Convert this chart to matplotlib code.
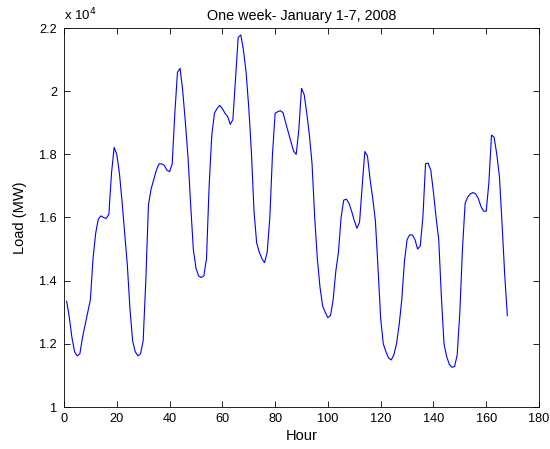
import matplotlib
matplotlib.use("Agg")
import matplotlib.pyplot as plt
from matplotlib.ticker import FuncFormatter, MultipleLocator

hours = list(range(1, 169))
load_1e4 = [
    1.335, 1.285, 1.22, 1.175, 1.162, 1.168, 1.22, 1.26, 1.30, 1.34,
    1.47, 1.55, 1.595, 1.605, 1.60, 1.597, 1.61, 1.74, 1.822, 1.80,
    1.74, 1.65, 1.55, 1.45, 1.31, 1.21, 1.175, 1.162, 1.168, 1.21,
    1.40, 1.64, 1.69, 1.72, 1.75, 1.77, 1.77, 1.765, 1.75, 1.745,
    1.77, 1.93, 2.06, 2.072, 2.00, 1.90, 1.79, 1.64, 1.50, 1.44,
    1.415, 1.41, 1.415, 1.47, 1.70, 1.86, 1.93, 1.945, 1.955, 1.945,
    1.93, 1.92, 1.895, 1.91, 2.04, 2.17, 2.178, 2.13, 2.06, 1.95,
    1.81, 1.62, 1.52, 1.49, 1.47, 1.457, 1.49, 1.60, 1.80, 1.93,
    1.935, 1.938, 1.932, 1.90, 1.87, 1.84, 1.81, 1.80, 1.88, 2.009,
    1.99, 1.93, 1.86, 1.77, 1.60, 1.47, 1.38, 1.32, 1.30, 1.283,
    1.29, 1.34, 1.43, 1.49, 1.60, 1.655, 1.658, 1.645, 1.62, 1.59,
    1.566, 1.585, 1.70, 1.809, 1.795, 1.72, 1.66, 1.59, 1.44, 1.28,
    1.20, 1.175, 1.155, 1.149, 1.165, 1.20, 1.26, 1.34, 1.46, 1.53,
    1.545, 1.545, 1.53, 1.50, 1.51, 1.60, 1.77, 1.772, 1.75, 1.68,
    1.60, 1.53, 1.35, 1.20, 1.16, 1.135, 1.126, 1.128, 1.165, 1.30,
    1.50, 1.645, 1.665, 1.675, 1.679, 1.675, 1.66, 1.635, 1.62, 1.62,
    1.71, 1.861, 1.854, 1.80, 1.73, 1.58, 1.42, 1.289,
]
load_mw = [v * 1e4 for v in load_1e4]

title = "One week- January 1-7, 2008"
xlabel = "Hour"
ylabel = "Load (MW)"

plt.rcParams['font.family'] = ['Liberation Sans', 'DejaVu Sans']

fig = plt.figure(figsize=(5.5, 4.49), dpi=100)
ax = fig.add_axes([64/550, 1-407/449, (539-64)/550, (407-28)/449])
ax.plot(hours, load_mw, color=(0, 0, 1), linewidth=0.8)
ax.set_xlim(0, 180)
ax.set_ylim(10000, 22000)
ax.xaxis.set_major_locator(MultipleLocator(20))
ax.yaxis.set_major_locator(MultipleLocator(2000))
ax.yaxis.set_major_formatter(FuncFormatter(lambda v, p: f"{v/1e4:g}"))
ax.tick_params(direction='in', top=True, right=True, length=4, width=0.6, labelsize=9.2)
ax.tick_params(axis='y', pad=5)
ax.tick_params(axis='x', pad=4)
for s in ax.spines.values():
    s.set_linewidth(0.6)
ax.set_title(title, fontsize=10.4, pad=6)
ax.set_xlabel(xlabel, fontsize=10.5, labelpad=3)
ax.set_ylabel(ylabel, fontsize=10.5, labelpad=9)
ax.text(0, 1.012, "x 10$^{4}$", transform=ax.transAxes, fontsize=9.5, ha='left', va='bottom')
fig.savefig("out.png", dpi=100)
